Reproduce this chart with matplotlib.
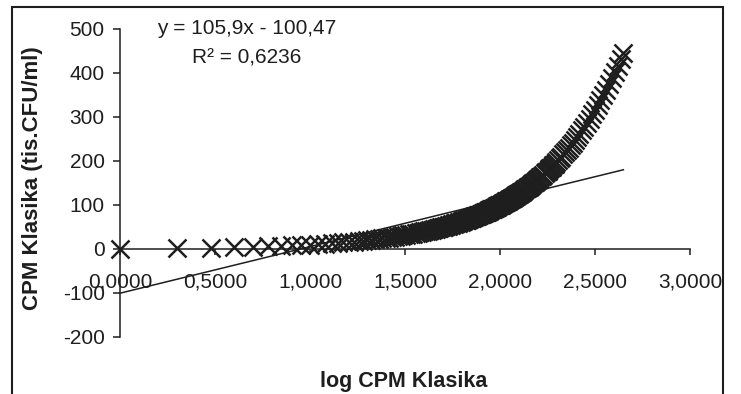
import matplotlib
matplotlib.use("Agg")
import matplotlib.pyplot as plt
import numpy as np
from matplotlib.patches import Rectangle

plt.rcParams['font.family'] = ['Liberation Sans', 'DejaVu Sans']

# CPM Klasika values (tis. CFU/ml)
cpm_values = [
    1, 2, 3, 4, 5, 6, 7, 8, 9, 10, 11, 12, 13, 14, 15, 16, 17, 18, 19, 20,
    21, 22, 23, 24, 25, 26, 27, 28, 29, 30, 31, 32, 33, 34, 35, 36, 37, 38, 39, 40,
    41, 42, 43, 44, 45, 46, 47, 48, 49, 50, 51, 52, 53, 54, 55, 56, 57, 58, 59, 60,
    61, 62, 63, 64, 65, 66, 67, 68, 69, 70, 71, 72, 73, 74, 75, 76, 77, 78, 79, 80,
    81, 82, 83, 84, 85, 86, 87, 88, 89, 90, 91, 92, 93, 94, 95, 96, 97, 98, 99, 100,
    101, 102, 103, 104, 105, 106, 107, 108, 109, 110, 111, 112, 113, 114, 115, 116,
    117, 118, 119, 120, 121, 122, 123, 124, 125, 126, 127, 128, 129, 130, 132, 134,
    136, 138, 140, 142, 144, 146, 148, 150, 152, 154, 156, 158, 160, 163, 166, 169,
    172, 175, 178, 181, 184, 187, 190, 194, 198, 202, 206, 210, 215, 220, 225, 230,
    236, 242, 248, 255, 262, 270, 278, 287, 296, 306, 316, 327, 338, 350, 362, 375,
    388, 402, 416, 431, 446,
]
x_ticks = [0.0, 0.5, 1.0, 1.5, 2.0, 2.5, 3.0]
x_tick_labels = ["0,0000", "0,5000", "1,0000", "1,5000", "2,0000", "2,5000", "3,0000"]
y_ticks = [-200, -100, 0, 100, 200, 300, 400, 500]
trend_slope = 105.9
trend_intercept = -100.47
eq_text = "y = 105,9x - 100,47"
r2_text = "R² = 0,6236"
x_label = "log CPM Klasika"
y_label = "CPM Klasika (tis.CFU/ml)"

W, H = 741, 394
ink = '#1e1e1e'
fs = 15

fig = plt.figure(figsize=(W / 100, H / 100), dpi=100)
ax = fig.add_axes([120 / W, 1 - 337 / H, 570 / W, 308 / H])

y = np.array(cpm_values, dtype=float)
x = np.log10(y)
ax.plot(x, y, linestyle='none', marker='x', ms=12.5, mew=1.8, color=ink, clip_on=False)

xt = np.array([0.0, x.max()])
ax.plot(xt, trend_slope * xt + trend_intercept, color=ink, lw=1.1, clip_on=False)

ax.set_xlim(0, 3)
ax.set_ylim(-200, 500)
ax.set_xticks(x_ticks)
ax.set_xticklabels(x_tick_labels)
ax.set_yticks(y_ticks)
ax.set_yticklabels([str(v) for v in y_ticks])

for s in ['top', 'right']:
    ax.spines[s].set_visible(False)
ax.spines['bottom'].set_position(('data', 0))
for s in ['left', 'bottom']:
    ax.spines[s].set_color(ink)
    ax.spines[s].set_linewidth(1.1)

ax.tick_params(axis='x', direction='out', length=4, width=1.1, color=ink,
               labelsize=fs, pad=13, labelcolor=ink)
ax.tick_params(axis='y', direction='out', length=5, width=1.1, color=ink,
               labelsize=fs, pad=6, labelcolor=ink)
ax.patch.set_alpha(0)

fig.text(247 / W, 1 - 28 / H, eq_text, ha='center', va='center', fontsize=fs, color=ink)
fig.text(247 / W, 1 - 58 / H, r2_text, ha='center', va='center', fontsize=fs, color=ink)

fig.text(404 / W, 1 - 382 / H, x_label, ha='center', va='center', fontsize=15.5,
         fontweight='bold', color=ink)
fig.text(33 / W, 1 - 178 / H, y_label, ha='center', va='center', fontsize=16,
         fontweight='bold', color=ink, rotation=90)

fig.add_artist(Rectangle((12 / W, -0.05), (723 - 12) / W, 1.05 - 7 / H,
                         transform=fig.transFigure, fill=False, lw=1.5, ec=ink))

fig.savefig('out.png', dpi=100)
